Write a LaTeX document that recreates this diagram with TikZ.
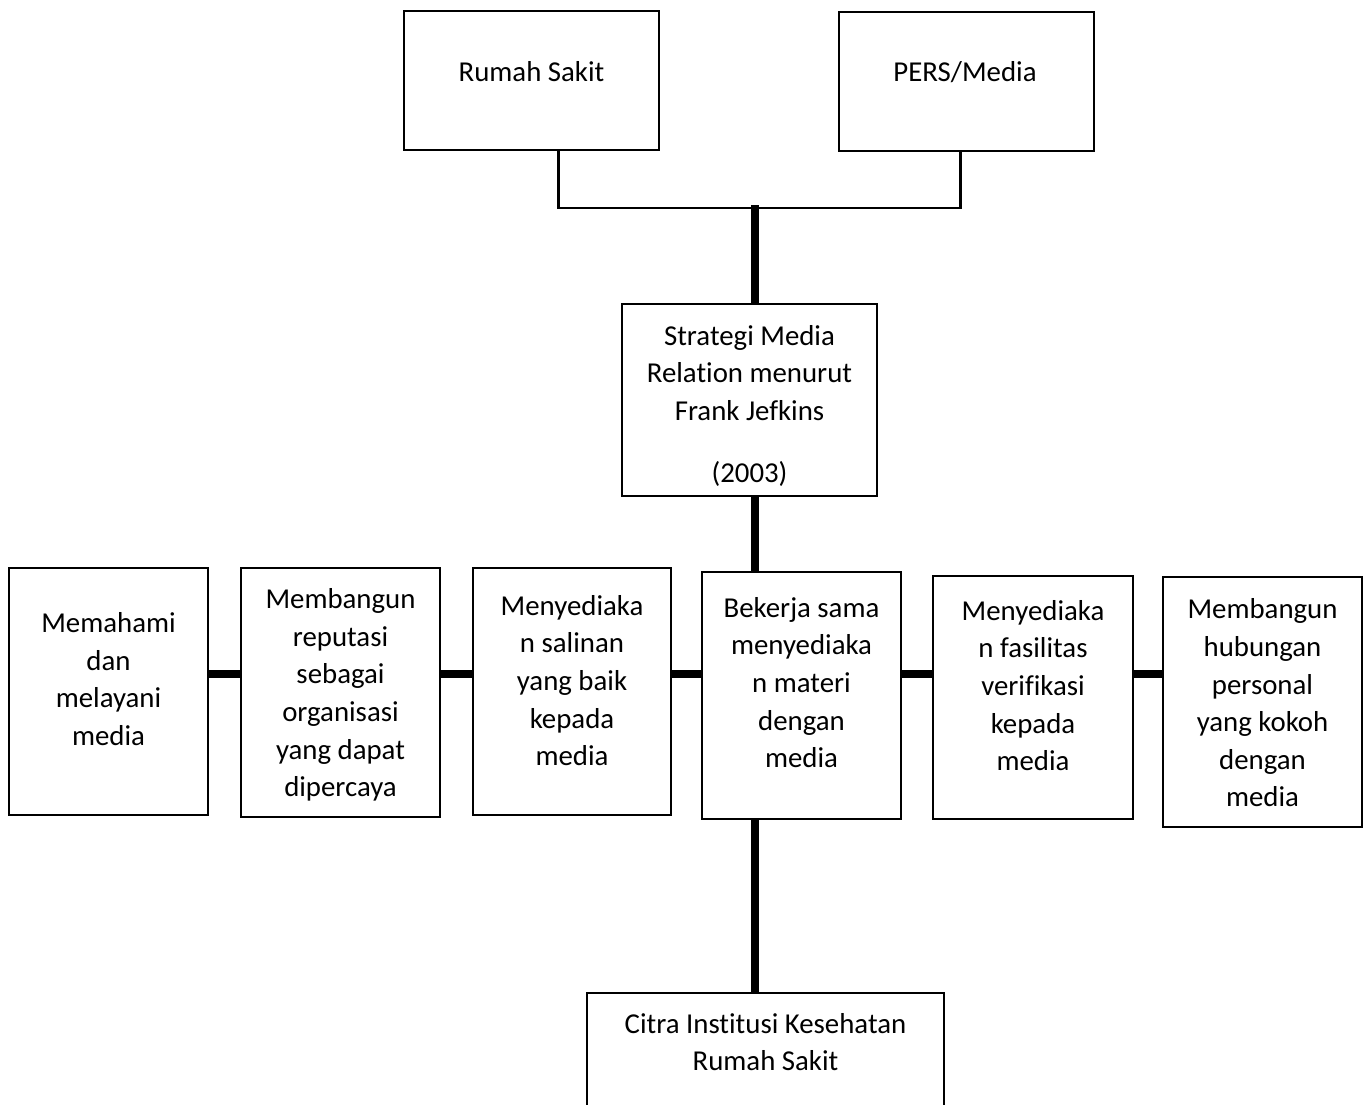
\documentclass[tikz,border=0pt]{standalone}
\usepackage{fontspec}
\setmainfont{Carlito}[Ligatures=NoCommon]

\begin{document}
\begin{tikzpicture}[x=0.2mm, y=-0.2mm,
    box/.style={draw, line width=1.1pt, inner sep=0pt},
    txt/.style={align=center, inner sep=0pt, font=\fontsize{16.4}{21.4}\selectfont},
    link/.style={line width=1.7pt},
    spine/.style={line width=4pt}]
    \useasboundingbox (0,0) rectangle (1370,1104);

    % top
    \node[box, minimum width=51mm, minimum height=27.8mm] (rs) at (531.5,80.5) {};
    \node[txt] (rsT) at (531.5,71.5) {Rumah Sakit};
    \node[box, minimum width=51mm, minimum height=27.8mm] (pers) at (966.5,81.5) {};
    \node[txt] (persT) at (965,72) {PERS/Media};

    \node[box, minimum width=51mm, minimum height=38.4mm] (strategi) at (749.5,400) {};
    \node[txt] (strategiT) at (749.5,406) {Strategi Media\\Relation menurut\\Frank Jefkins\\[14pt](2003)};

    % row of strategies
    \node[box, minimum width=39.8mm, minimum height=49.4mm] (memahami) at (108.5,691.5) {};
    \node[txt] (memahamiT) at (108.5,679) {Memahami\\dan\\melayani\\media};
    \node[box, minimum width=39.8mm, minimum height=49.8mm] (reputasi) at (340.5,692.5) {};
    \node[txt] (reputasiT) at (340.5,695) {Membangun\\reputasi\\sebagai\\organisasi\\yang dapat\\dipercaya};
    \node[box, minimum width=39.6mm, minimum height=49.4mm] (salinan) at (572,691.5) {};
    \node[txt] (salinanT) at (572,680.5) {Menyediaka\\n salinan\\yang baik\\kepada\\media};
    \node[box, minimum width=39.8mm, minimum height=49.4mm] (bekerja) at (801.5,695.5) {};
    \node[txt] (bekerjaT) at (801.5,682.5) {Bekerja sama\\menyediaka\\n materi\\dengan\\media};
    \node[box, minimum width=40mm, minimum height=48.6mm] (fasilitas) at (1033,697.5) {};
    \node[txt] (fasilitasT) at (1033,685.5) {Menyediaka\\n fasilitas\\verifikasi\\kepada\\media};
    \node[box, minimum width=39.8mm, minimum height=50mm] (hubungan) at (1262.5,702) {};
    \node[txt] (hubunganT) at (1262.5,703) {Membangun\\hubungan\\personal\\yang kokoh\\dengan\\media};

    % result
    \node[box, minimum width=71.4mm, minimum height=26mm] (citra) at (765.5,1058) {};
    \node[txt] (citraT) at (765.5,1042) {Citra Institusi Kesehatan\\Rumah Sakit};

    \coordinate (rsfoot) at (558,208);
    \coordinate (persfoot) at (960,208);
    \coordinate (join) at (755,205);
    \coordinate (trunk) at (755,0);
    \coordinate (row) at (0,674);

    \draw[link] (rs.south -| rsfoot) -- (rsfoot) -- (persfoot) -- (pers.south -| persfoot);
    \draw[spine] (join) -- (strategi.north -| join);
    \draw[spine] (strategi.south -| trunk) -- (bekerja.north -| trunk);
    \draw[spine] (bekerja.south -| trunk) -- (citra.north -| trunk);
    \foreach \a/\b in {memahami/reputasi, reputasi/salinan, salinan/bekerja, bekerja/fasilitas, fasilitas/hubungan}
        \draw[spine] (\a.east |- row) -- (\b.west |- row);
\end{tikzpicture}
\end{document}
